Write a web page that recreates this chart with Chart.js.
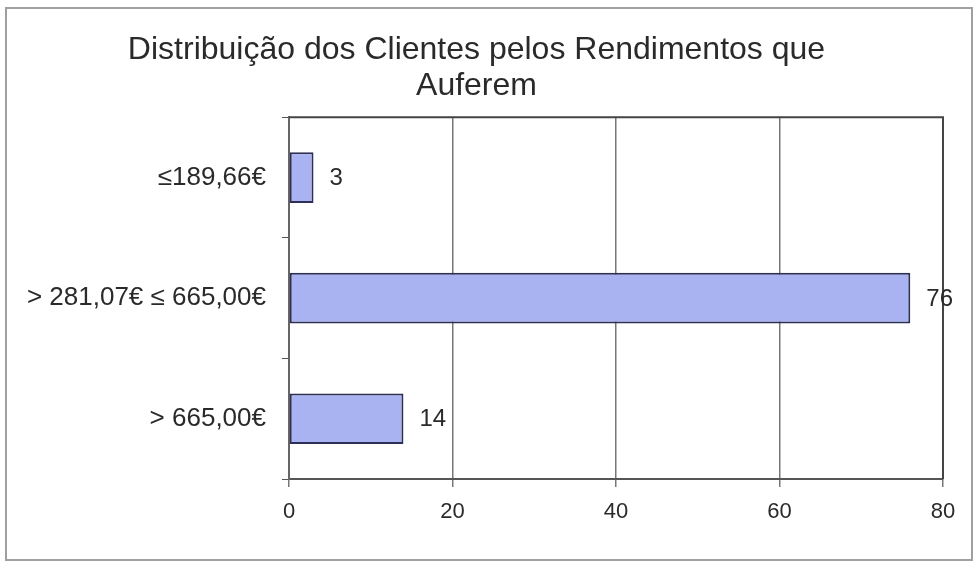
<!DOCTYPE html>
<html>
<head>
<meta charset="utf-8">
<script src="https://cdn.jsdelivr.net/npm/chart.js@4"></script>
<style>
  html, body { margin: 0; padding: 0; background: #fff; }
  #wrap { width: 977px; height: 562px; }
</style>
</head>
<body>
<div id="wrap"><canvas id="myChartRendimentos"></canvas></div>
<script>
var categorias = ['≤189,66€', '> 281,07€ ≤ 665,00€', '> 665,00€'];
var clientes = [3, 76, 14];
var ticksX = [0, 20, 40, 60, 80];
var titulo = ['Distribuição dos Clientes pelos Rendimentos que', 'Auferem'];

// moldura exterior + contorno da área do gráfico
var molduraPlugin = {
    id: 'moldura',
    beforeDraw: function (chart) {
        var ctx = chart.ctx;
        ctx.save();
        ctx.strokeStyle = '#a0a0a0';
        ctx.lineWidth = 2;
        ctx.strokeRect(6, 8, 966, 552);
        ctx.restore();
    },
    afterDatasetsDraw: function (chart) {
        var ctx = chart.ctx;
        var a = chart.chartArea;
        ctx.save();
        ctx.strokeStyle = '#444';
        ctx.lineWidth = 2;
        ctx.beginPath();
        ctx.moveTo(a.left, a.top);
        ctx.lineTo(a.right, a.top);
        ctx.lineTo(a.right, a.bottom);
        ctx.stroke();
        ctx.restore();
    }
};

// valores no fim das barras
var valoresPlugin = {
    id: 'valores',
    afterDraw: function (chart) {
        var ctx = chart.ctx;
        var meta = chart.getDatasetMeta(0);
        ctx.save();
        ctx.font = '24px "Liberation Sans", Arial, sans-serif';
        ctx.fillStyle = '#2a2a2a';
        ctx.textAlign = 'left';
        ctx.textBaseline = 'middle';
        meta.data.forEach(function (bar, i) {
            ctx.fillText(clientes[i], bar.x + 16, bar.y + 1);
        });
        ctx.restore();
    }
};

var ctx = document.getElementById('myChartRendimentos').getContext('2d');
var mychart = new Chart(ctx, {
    type: 'bar',
    data: {
        labels: categorias,
        datasets: [{
            label: 'Clientes',
            data: clientes,
            backgroundColor: '#aab3f2',
            borderColor: '#2e2f55',
            borderWidth: 2,
            borderSkipped: false,
            categoryPercentage: 1,
            barPercentage: 0.42
        }]
    },
    options: {
        indexAxis: 'y',
        responsive: true,
        maintainAspectRatio: false,
        animation: false,
        layout: { padding: { left: 10, right: 34, top: 10, bottom: 0 } },
        plugins: {
            legend: { display: false },
            tooltip: { enabled: false },
            title: {
                display: true,
                text: titulo,
                color: '#2a2a2a',
                font: { family: '"Liberation Sans", Arial, sans-serif', size: 32, weight: 'normal', lineHeight: 1.13 },
                padding: { top: 22, bottom: 13 }
            }
        },
        scales: {
            x: {
                min: 0,
                max: 80,
                afterBuildTicks: function (scale) {
                    scale.ticks = ticksX.map(function (v) { return { value: v }; });
                },
                afterFit: function (scale) { scale.height = 83; },
                grid: { color: '#777', lineWidth: 1.5, tickLength: 8 },
                border: { color: '#555', width: 2 },
                ticks: {
                    color: '#2a2a2a',
                    padding: 12,
                    font: { family: '"Liberation Sans", Arial, sans-serif', size: 22 }
                }
            },
            y: {
                afterFit: function (scale) { scale.width = 279; },
                grid: { offset: true, drawOnChartArea: false, color: '#555', tickLength: 7 },
                border: { color: '#666', width: 2 },
                ticks: {
                    color: '#2a2a2a',
                    padding: 16,
                    font: { family: '"Liberation Sans", Arial, sans-serif', size: 26 }
                }
            }
        }
    },
    plugins: [molduraPlugin, valoresPlugin]
});
</script>
</body>
</html>
